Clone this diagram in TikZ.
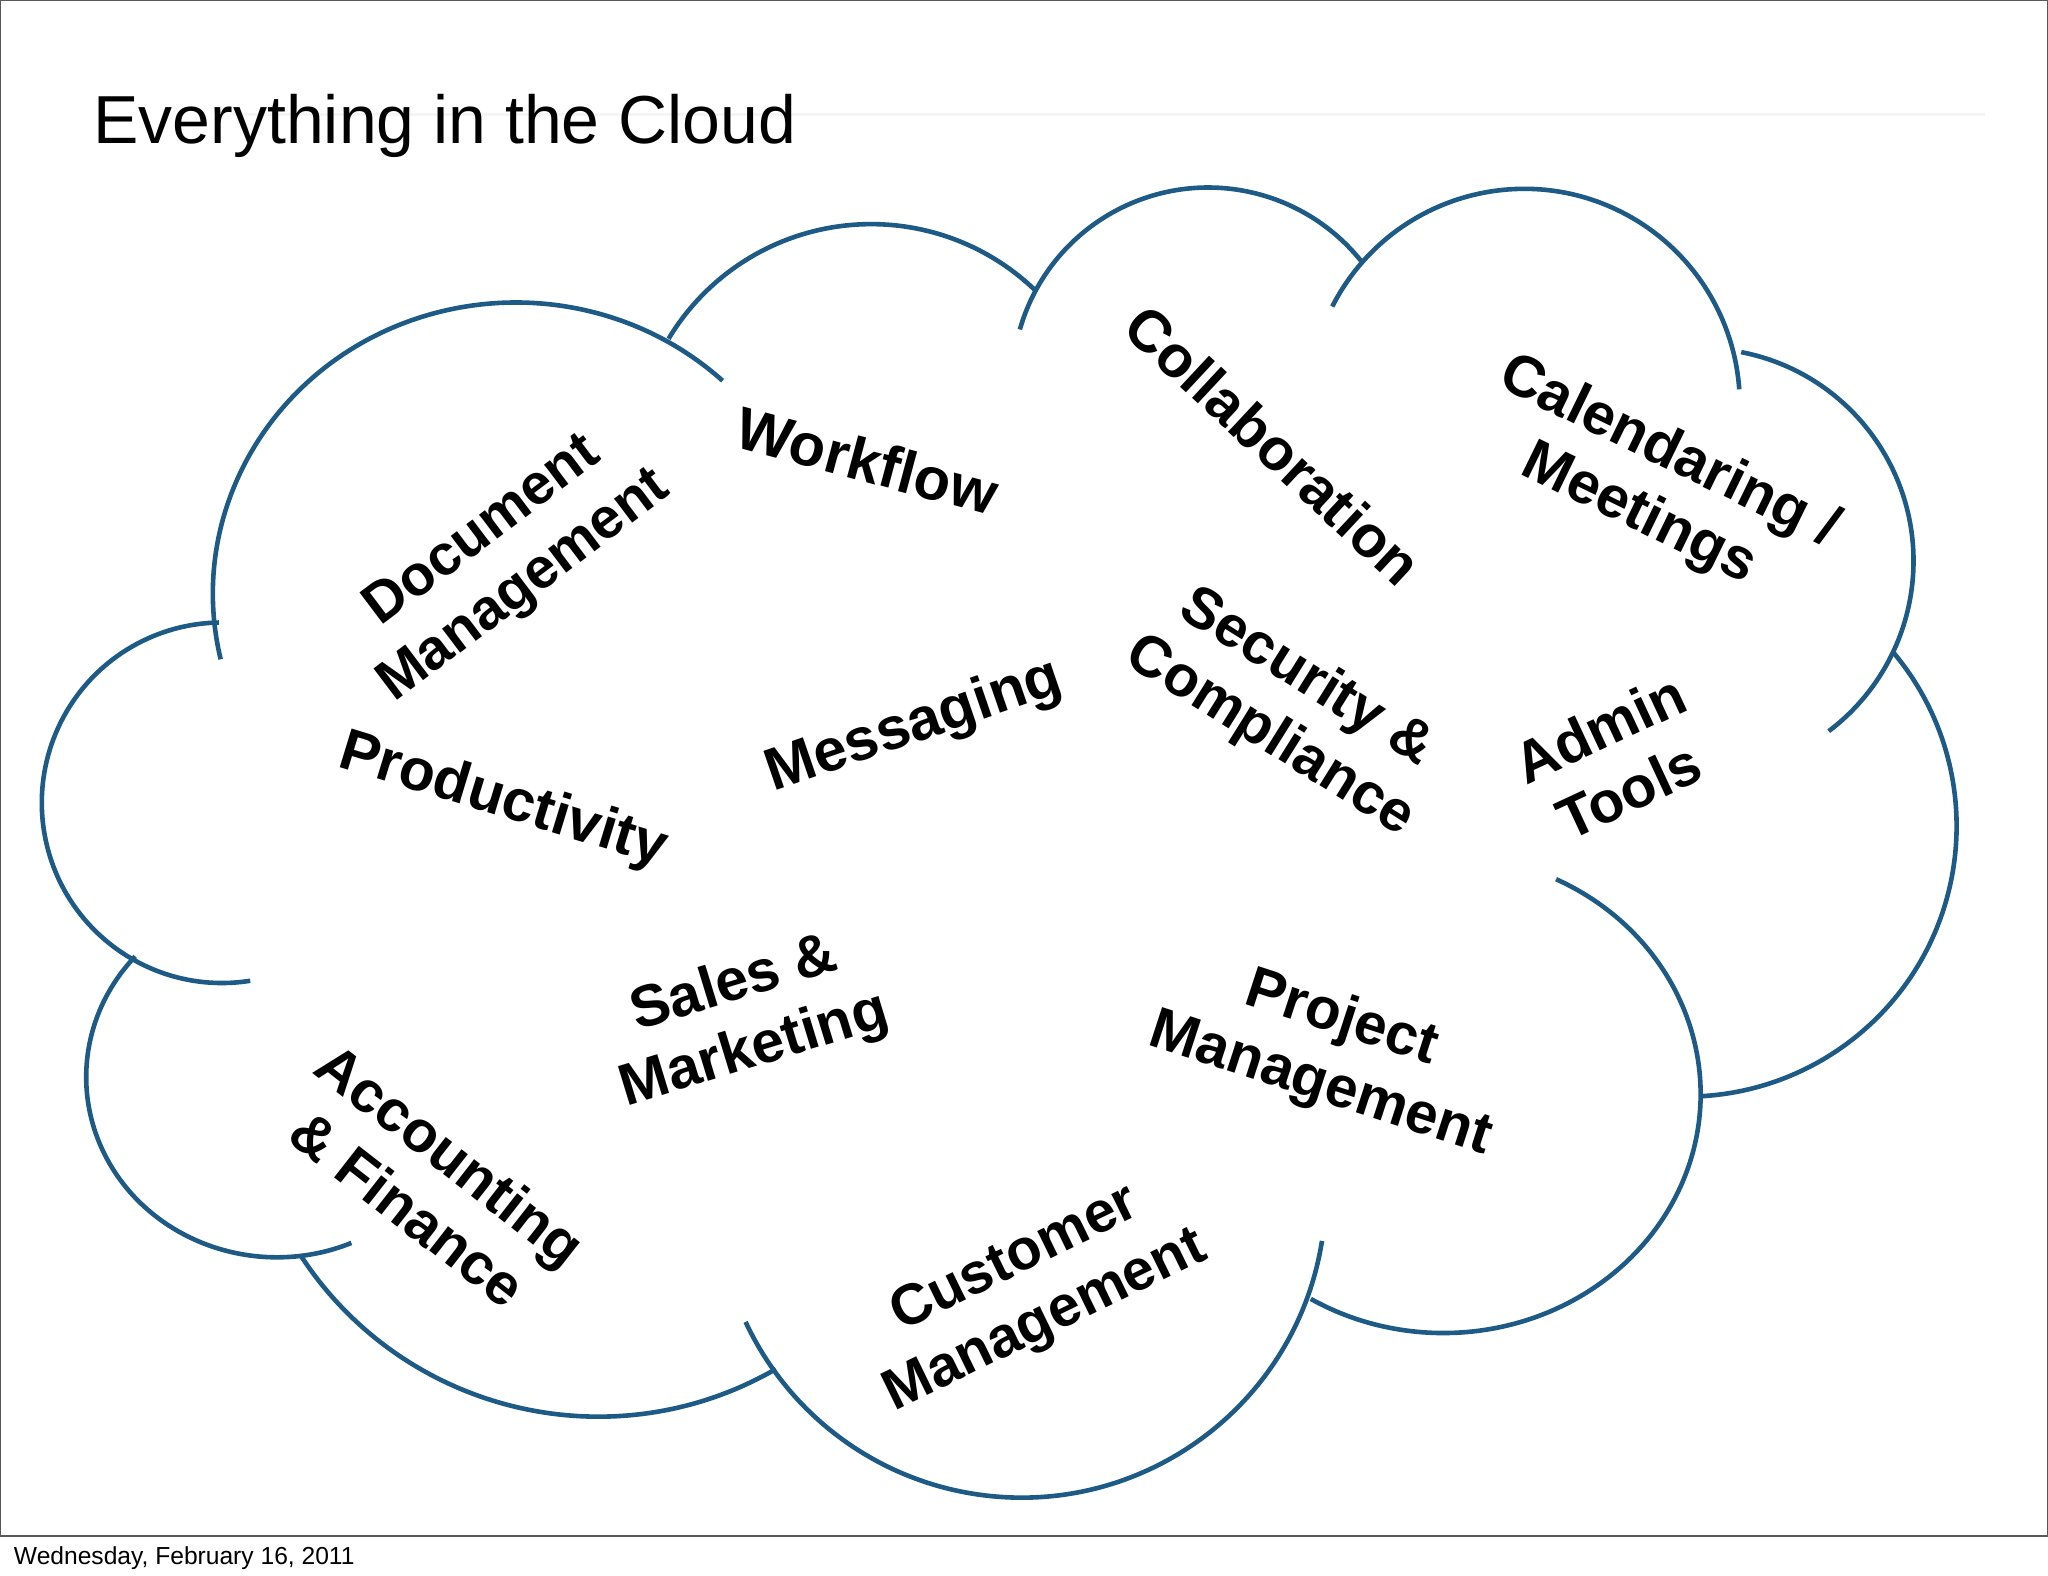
\documentclass[tikz,border=0pt]{standalone}
\usepackage{fontspec}
\setmainfont{Liberation Sans}
\definecolor{cloudblue}{HTML}{1D5A85}
\tikzset{
  lobe/.style={draw=cloudblue, line width=1pt},
  topic/.style={font=\fontsize{#1}{15}\selectfont\bfseries, align=center, inner sep=0pt},
  topic/.default=12.6,
}
\begin{document}
\begin{tikzpicture}
  \useasboundingbox (0, 0) rectangle (15.68, 12.066);
  \fill[white] (0, 0) rectangle (15.68, 12.066);
  \draw[black!65, line width=0.5pt] (0, 0.306) rectangle (15.68, 12.066);
  \coordinate (rulestart) at (1.78, 11.19);
  \coordinate (ruleend) at (15.2, 11.19);
  \draw[black!4, line width=0.5pt] (rulestart) -- (ruleend);
  \node[anchor=base west, inner sep=0pt, font=\fontsize{14.8}{17}\selectfont] (title) at (0.71, 10.97) {Everything in the Cloud};
  \node[anchor=base west, inner sep=0pt, font=\fontsize{5.36}{6}\selectfont] (date) at (0.10, 0.09) {Wednesday, February 16, 2011};

  % cloud outline
  \draw[lobe] (3.95, 7.52) ++(193:2.32 and 2.23) arc[start angle=193, end angle=47, x radius=2.32, y radius=2.23];
  \draw[lobe] (6.67, 8.54) ++(149:1.81) arc[start angle=149, end angle=46, radius=1.81];
  \draw[lobe] (9.25, 9.13) ++(164:1.50) arc[start angle=164, end angle=38, radius=1.50];
  \draw[lobe] (11.67, 8.97) ++(153:1.65) arc[start angle=153, end angle=4, radius=1.65];
  \draw[lobe] (13.02, 7.77) ++(79:1.63) arc[start angle=79, end angle=-53, radius=1.63];
  \draw[lobe] (12.91, 5.74) ++(40:2.07) arc[start angle=40, end angle=-87, radius=2.07];
  \draw[lobe] (11.05, 3.69) ++(64:1.97 and 1.83) arc[start angle=64, end angle=-121, x radius=1.97, y radius=1.83];
  \draw[lobe] (7.82, 2.93) ++(-9:2.33) arc[start angle=-9, end angle=-155, radius=2.33];
  \draw[lobe] (4.58, 3.94) ++(-60:2.72) arc[start angle=-60, end angle=-147, radius=2.72];
  \draw[lobe] (2.12, 3.82) ++(-67:1.46 and 1.38) arc[start angle=-67, end angle=-222, x radius=1.46, y radius=1.38];
  \draw[lobe] (1.70, 5.92) ++(-81:1.38) arc[start angle=-81, end angle=-269, radius=1.38];

  % topics
  \node[topic=12.4, rotate=37] (docs) at (3.86, 7.78) {Document\\Management};
  \node[topic=13, rotate=-15] (workflow) at (6.64, 8.54) {Workflow};
  \node[topic=12.8, rotate=-43] (collab) at (9.75, 8.66) {Collaboration};
  \node[topic=12.7, rotate=-26] (calendar) at (12.66, 8.36) {Calendaring /\\Meetings};
  \node[topic=13, rotate=19] (messaging) at (7.00, 6.50) {Messaging};
  \node[topic=12.6, rotate=-32] (security) at (9.86, 6.65) {Security \&\\Compliance};
  \node[topic=12.7, rotate=25] (admin) at (12.36, 6.25) {Admin\\Tools};
  \node[topic=12.8, rotate=-17] (product) at (3.85, 5.93) {Productivity};
  \node[topic=12.8, rotate=17] (sales) at (5.70, 4.27) {Sales \&\\Marketing};
  \node[topic=12.7, rotate=-18] (project) at (10.19, 4.01) {Project\\Management};
  \node[topic=12.7, rotate=-38] (account) at (3.29, 3.02) {Accounting\\\& Finance};
  \node[topic=12.5, rotate=26] (customer) at (7.89, 2.18) {Customer\\Management};
\end{tikzpicture}
\end{document}
